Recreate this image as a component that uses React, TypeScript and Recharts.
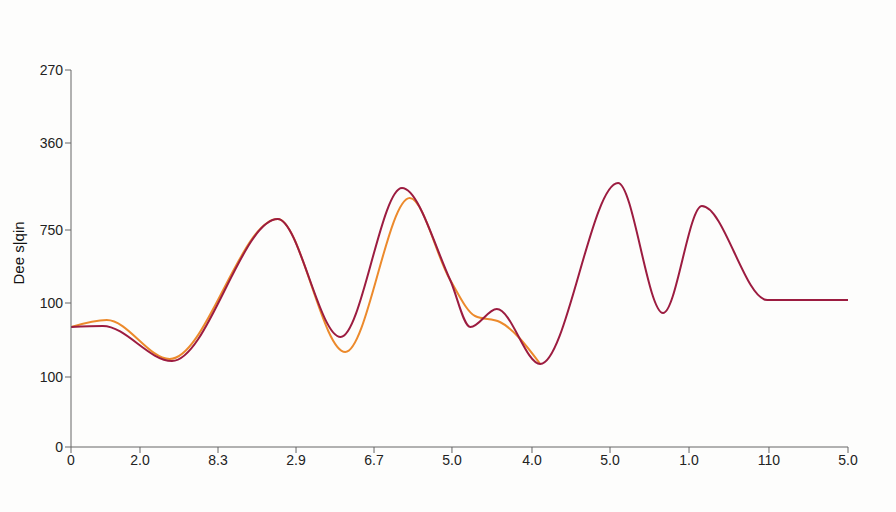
import React from 'react'
import { LineChart, Line, XAxis, YAxis } from 'recharts'

// x positions are in axis units (0..10), y values in axis units (0..377)
const xTicks = [0, 0.888, 1.892, 2.896, 3.9, 4.903, 5.933, 6.937, 7.954, 8.983, 10]
const xTickLabels = ['0', '2.0', '8.3', '2.9', '6.7', '5.0', '4.0', '5.0', '1.0', '110', '5.0']

const yTicks = [0, 70, 144, 217, 304, 377]
const yTickLabels = ['0', '100', '100', '750', '360', '270']

const crimsonX = [0, 0.41, 1.3, 2.66, 3.47, 4.26, 4.88, 5.14, 5.48, 6.04, 7.04, 7.62, 8.12, 8.96, 10]
const crimsonY = [120, 121, 86, 228, 110, 259, 167, 120, 138, 83, 264, 134, 241, 147, 147]

const orangeX = [0, 0.46, 1.27, 2.66, 3.53, 4.36, 4.88, 5.2, 5.52, 6.04]
const orangeY = [120, 127, 88, 228, 95, 249, 167, 131, 125, 83]

const crimsonData = crimsonX.map((x, i) => ({ x, y: crimsonY[i] }))
const orangeData = orangeX.map((x, i) => ({ x, y: orangeY[i] }))

const tickStyle = { fontSize: 14, fill: '#222', fontFamily: 'Liberation Sans, Arial, sans-serif' }

const YLabel = () => (
  <text
    x={18}
    y={253}
    transform="rotate(-90 18 253)"
    textAnchor="middle"
    dominantBaseline="central"
    fontSize={15}
    fontWeight={500}
    fill="#111"
    fontFamily="Liberation Sans, Arial, sans-serif"
  >
    Dee s|qin
  </text>
)

export default function App() {
  return (
    <div style={{ position: 'absolute', left: 0, top: 0, width: 896, height: 512, background: '#fdfdfc' }}>
      <LineChart width={896} height={512} margin={{ top: 70, right: 48, left: 11, bottom: 35 }}>
        <XAxis
          type="number"
          dataKey="x"
          domain={[0, 10]}
          ticks={xTicks}
          interval={0}
          tickFormatter={(v: number) => xTickLabels[xTicks.indexOf(v)] ?? ''}
          tick={tickStyle}
          stroke="#666"
          tickLine={{ stroke: '#666' }}
          allowDataOverflow
          height={30}
        />
        <YAxis
          type="number"
          dataKey="y"
          domain={[0, 377]}
          ticks={yTicks}
          interval={0}
          tickFormatter={(v: number) => yTickLabels[yTicks.indexOf(v)] ?? ''}
          tick={tickStyle}
          stroke="#666"
          tickLine={{ stroke: '#666' }}
          width={60}
          label={{ content: () => <YLabel /> }}
        />
        <Line
          data={orangeData}
          dataKey="y"
          type="monotone"
          stroke="#ec8a2c"
          strokeWidth={2}
          dot={false}
          isAnimationActive={false}
        />
        <Line
          data={crimsonData}
          dataKey="y"
          type="monotone"
          stroke="#9c1c40"
          strokeWidth={2}
          dot={false}
          isAnimationActive={false}
        />
      </LineChart>
    </div>
  )
}
